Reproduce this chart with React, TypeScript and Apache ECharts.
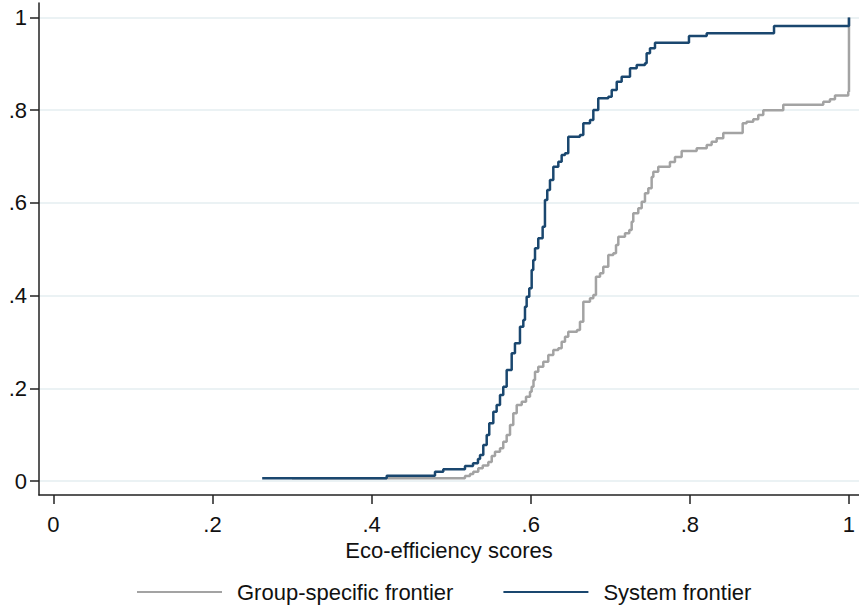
import React, { useEffect, useRef } from "react";
import * as echarts from "echarts";

// ---- Data ----
const xTickValues = [0, 0.2, 0.4, 0.6, 0.8, 1];
const xTickLabels = ["0", ".2", ".4", ".6", ".8", "1"];
const yTickValues = [0, 0.2, 0.4, 0.6, 0.8, 1];
const yTickLabels = ["0", ".2", ".4", ".6", ".8", "1"];

const seriesNames = ["Group-specific frontier", "System frontier"];

// Group-specific frontier: empirical CDF step points (score, cumulative share)
const groupX = [
  0.3, 0.5174, 0.5237, 0.5278, 0.5341, 0.5397, 0.5467, 0.551, 0.5551, 0.5614,
  0.5655, 0.5698, 0.574, 0.5781, 0.5824, 0.5887, 0.5941, 0.5991, 0.6012, 0.6035,
  0.6054, 0.6095, 0.6158, 0.6221, 0.6284, 0.6347, 0.6389, 0.6431, 0.6472, 0.6582,
  0.6619, 0.6661, 0.6745, 0.6787, 0.682, 0.6871, 0.6912, 0.6975, 0.7038, 0.7072,
  0.7101, 0.7185, 0.7239, 0.7269, 0.7289, 0.7352, 0.7395, 0.7436, 0.7478, 0.752,
  0.7541, 0.7603, 0.775, 0.7813, 0.7897, 0.8086, 0.8212, 0.8274, 0.8337, 0.842,
  0.8664, 0.8714, 0.8797, 0.886, 0.8923, 0.9174, 0.9677, 0.9761, 0.9824, 0.9991,
  1.0,
];
const groupY = [
  0.0058, 0.0108, 0.0151, 0.0201, 0.0274, 0.0334, 0.041, 0.0539, 0.0632, 0.0706,
  0.0848, 0.0992, 0.1208, 0.1461, 0.164, 0.1711, 0.1819, 0.1927, 0.2035, 0.2179,
  0.2358, 0.2466, 0.2574, 0.2718, 0.2826, 0.2863, 0.3005, 0.3113, 0.3221, 0.3258,
  0.3437, 0.3868, 0.3942, 0.4013, 0.4408, 0.4481, 0.4624, 0.4876, 0.4913, 0.5092,
  0.5271, 0.5344, 0.5415, 0.5594, 0.5776, 0.5884, 0.6026, 0.6207, 0.6315, 0.6559,
  0.6673, 0.6781, 0.6882, 0.699, 0.712, 0.7178, 0.7249, 0.732, 0.7394, 0.7508,
  0.7717, 0.7752, 0.7804, 0.7896, 0.7998, 0.8117, 0.8183, 0.8235, 0.8317, 0.8399,
  1.0,
];

// System frontier: empirical CDF step points
const systemX = [
  0.2625, 0.419, 0.4797, 0.4901, 0.5174, 0.5275, 0.5337, 0.5363, 0.5404, 0.5447,
  0.5479, 0.553, 0.5572, 0.5614, 0.5655, 0.5698, 0.5761, 0.5802, 0.5865, 0.5907,
  0.5928, 0.5949, 0.5982, 0.6012, 0.6032, 0.6054, 0.6095, 0.615, 0.6179, 0.6208,
  0.6242, 0.6284, 0.6347, 0.6389, 0.6431, 0.6472, 0.6619, 0.6661, 0.6745, 0.6787,
  0.6849, 0.6975, 0.7018, 0.7081, 0.7143, 0.7248, 0.7332, 0.7436, 0.7457, 0.7499,
  0.7562, 0.7989, 0.8212, 0.9058, 1.0,
];
const systemY = [
  0.0058, 0.0114, 0.0201, 0.0252, 0.0324, 0.0382, 0.0475, 0.0561, 0.0777, 0.0992,
  0.1245, 0.1495, 0.164, 0.1855, 0.2035, 0.2395, 0.2755, 0.2971, 0.3329, 0.3474,
  0.3761, 0.3976, 0.4158, 0.4552, 0.4768, 0.502, 0.5236, 0.5487, 0.6063, 0.6278,
  0.6494, 0.6781, 0.6889, 0.7033, 0.707, 0.7428, 0.7465, 0.7717, 0.7789, 0.8004,
  0.8257, 0.8291, 0.8436, 0.8615, 0.8723, 0.8904, 0.8975, 0.9012, 0.9228, 0.9335,
  0.9456, 0.9601, 0.9659, 0.9817, 1.0,
];

const zip = (xs: number[], ys: number[]) => xs.map((x, i) => [x, ys[i]]);

const labelFor = (values: number[], labels: string[]) => (v: number) => {
  const i = values.findIndex((t) => Math.abs(t - v) < 1e-9);
  return i >= 0 ? labels[i] : "";
};

const FONT = "'Liberation Sans', Arial, sans-serif";
const TEXT_COLOR = "#111";
const GRAY = "#a3a3a3";
const NAVY = "#1a476f";

export default function App() {
  const ref = useRef<HTMLDivElement>(null);

  useEffect(() => {
    document.body.style.margin = "0";
    if (!ref.current) return;
    const chart = echarts.init(ref.current, null, { renderer: "svg" });
    chart.setOption({
      animation: false,
      backgroundColor: "#ffffff",
      textStyle: { fontFamily: FONT },
      grid: { left: 39, right: 0, top: 3, bottom: 113, containLabel: false },
      legend: {
        left: 137,
        top: 581,
        padding: 0,
        icon: "rect",
        itemWidth: 85,
        itemHeight: 2,
        itemGap: 50,
        data: seriesNames,
        textStyle: {
          fontFamily: FONT,
          fontSize: 22,
          color: TEXT_COLOR,
          padding: [0, 0, 0, 10],
        },
      },
      xAxis: {
        type: "value",
        min: -0.018,
        max: 1.0126,
        name: "Eco-efficiency scores",
        nameLocation: "middle",
        nameGap: 35,
        nameTextStyle: { fontFamily: FONT, fontSize: 22, color: TEXT_COLOR },
        axisLine: { show: true, onZero: false, lineStyle: { color: "#222", width: 1.5 } },
        axisTick: {
          show: true,
          length: 9,
          customValues: xTickValues,
          lineStyle: { color: "#222", width: 1.5 },
        },
        axisLabel: {
          customValues: xTickValues,
          formatter: labelFor(xTickValues, xTickLabels),
          margin: 18,
          fontFamily: FONT,
          fontSize: 22,
          color: TEXT_COLOR,
        },
        splitLine: { show: false },
      },
      yAxis: {
        type: "value",
        min: -0.0302,
        max: 1.0313,
        axisLine: { show: true, onZero: false, lineStyle: { color: "#222", width: 1.5 } },
        axisTick: {
          show: true,
          length: 9,
          customValues: yTickValues,
          lineStyle: { color: "#222", width: 1.5 },
        },
        axisLabel: {
          customValues: yTickValues,
          formatter: labelFor(yTickValues, yTickLabels),
          margin: 12,
          fontFamily: FONT,
          fontSize: 22,
          color: TEXT_COLOR,
        },
        splitLine: { show: true, lineStyle: { color: "#e4eef1", width: 1.5 } },
      },
      series: [
        {
          name: seriesNames[0],
          type: "line",
          step: "end",
          symbol: "none",
          data: zip(groupX, groupY),
          lineStyle: { color: GRAY, width: 2.5 },
          itemStyle: { color: GRAY },
        },
        {
          name: seriesNames[1],
          type: "line",
          step: "end",
          symbol: "none",
          data: zip(systemX, systemY),
          lineStyle: { color: NAVY, width: 2.5 },
          itemStyle: { color: NAVY },
        },
      ],
    });
    return () => chart.dispose();
  }, []);

  return <div ref={ref} style={{ width: 859, height: 608 }} />;
}
